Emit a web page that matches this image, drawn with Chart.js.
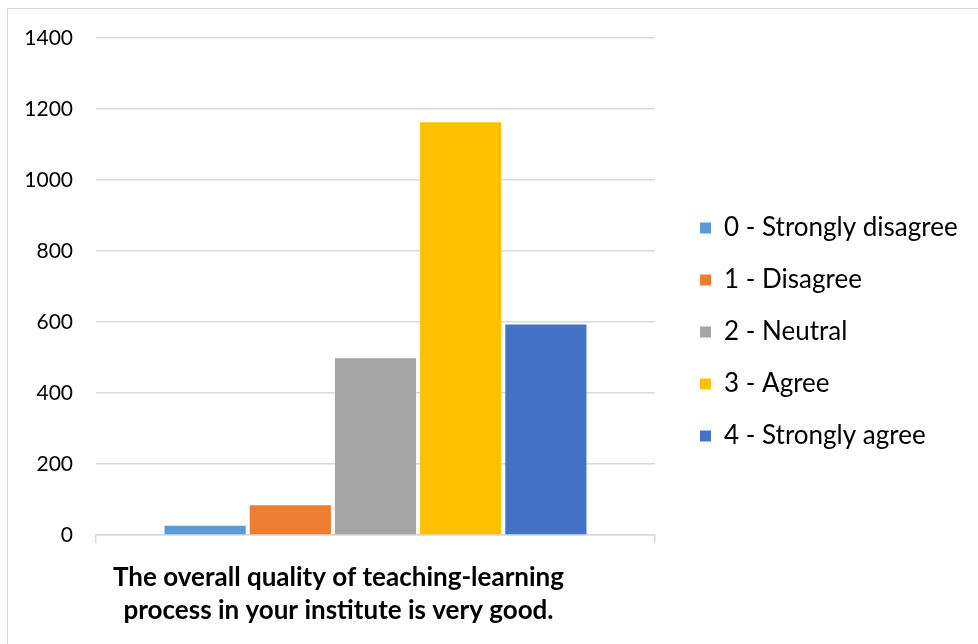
<!DOCTYPE html>
<html>
<head>
<meta charset="utf-8">
<script src="https://cdn.jsdelivr.net/npm/chart.js@4"></script>
<style>
  html, body { margin: 0; padding: 0; background: #fff; }
  #frame { position: absolute; left: 7px; top: 8px; width: 1000px; height: 700px; border: 1.5px solid #d9d9d9; box-sizing: border-box; }
  #wrap { position: absolute; left: 0; top: 0; width: 978px; height: 644px; }
</style>
</head>
<body>
<div id="frame"></div>
<div id="wrap"><canvas id="c" width="978" height="644"></canvas></div>
<script>
const categories = [["The overall quality of teaching-learning", "process in your institute is very good."]];
const seriesNames = ["0 - Strongly disagree", "1 - Disagree", "2 - Neutral", "3 - Agree", "4 - Strongly agree"];
const seriesValues = [26, 84, 498, 1163, 593];
const seriesColors = ["#5b9bd5", "#ed7d31", "#a5a5a5", "#ffc000", "#4472c4"];
const yTicks = [0, 200, 400, 600, 800, 1000, 1200, 1400];

const datasets = seriesNames.map((name, i) => ({
  label: name,
  data: [seriesValues[i]],
  backgroundColor: seriesColors[i],
  borderWidth: 0,
  categoryPercentage: 0.762,
  barPercentage: 0.953
}));

// Place the plot area and legend like the reference layout
const layoutPlugin = {
  id: 'layoutTweak',
  beforeLayout(chart) {
    const lg = chart.legend;
    if (lg && !lg._wrapped) {
      const orig = lg.fit.bind(lg);
      lg.fit = function () { orig(); this.width = 978 - 655; };
      lg._wrapped = true;
    }
  },
  afterLayout(chart) {
    const lg = chart.legend;
    if (lg) {
      const pad = lg.options.labels.padding;
      lg.left = 700 - pad;
      lg.top -= 9;
      lg.bottom -= 9;
    }
  }
};

new Chart(document.getElementById('c'), {
  type: 'bar',
  data: { labels: categories, datasets },
  plugins: [layoutPlugin],
  options: {
    responsive: false,
    animation: false,
    devicePixelRatio: 1,
    layout: { padding: { left: 0, right: 0, top: 38, bottom: 0 } },
    plugins: {
      tooltip: { enabled: false },
      legend: {
        position: 'right',
        align: 'center',
        labels: {
          font: { family: 'Lato', size: 26 },
          color: '#000',
          boxWidth: 11,
          boxHeight: 11,
          padding: 26
        }
      }
    },
    scales: {
      x: {
        afterFit: (s) => { s.paddingLeft = 0; s.paddingRight = 0; s.height = 644 - 535; },
        grid: { drawOnChartArea: false, drawTicks: true, tickLength: 8, color: '#d9d9d9', lineWidth: 1.5, offset: true },
        border: { display: true, color: '#d9d9d9', width: 1.5 },
        ticks: { font: { family: 'Lato', size: 26, weight: 'bold', lineHeight: 1.27 }, color: '#000', padding: 18, labelOffset: -37, maxRotation: 0 }
      },
      y: {
        min: 0, max: 1400,
        afterFit: (s) => { s.width = 96; },
        afterBuildTicks: (s) => { s.ticks = yTicks.map(v => ({ value: v })); },
        grid: { color: '#d9d9d9', lineWidth: 1.5, drawTicks: false },
        border: { display: false },
        ticks: { font: { family: 'Lato', size: 21 }, color: '#000', padding: 23, callback: (v) => String(v) }
      }
    }
  }
});
</script>
</body>
</html>
